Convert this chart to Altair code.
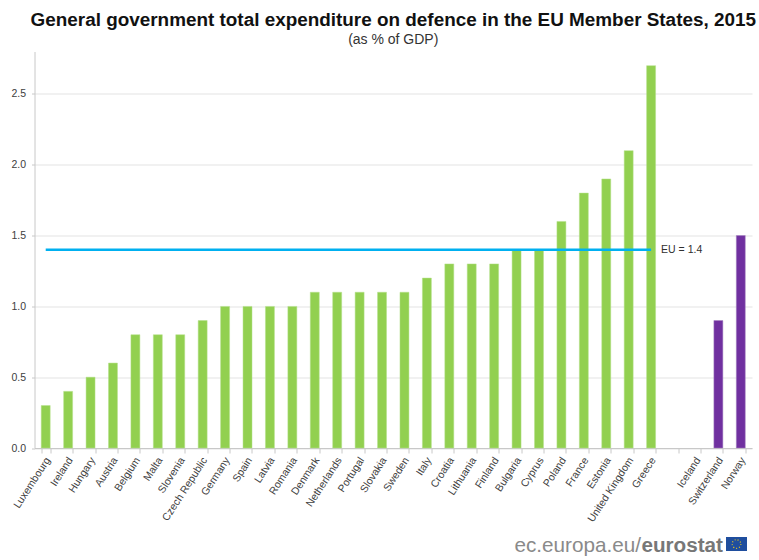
import altair as alt
import pandas as pd

FONT = "Liberation Sans"

countries = [
    "Luxembourg", "Ireland", "Hungary", "Austria", "Belgium", "Malta", "Slovenia",
    "Czech Republic", "Germany", "Spain", "Latvia", "Romania", "Denmark", "Netherlands",
    "Portugal", "Slovakia", "Sweden", "Italy", "Croatia", "Lithuania", "Finland",
    "Bulgaria", "Cyprus", "Poland", "France", "Estonia", "United Kingdom", "Greece",
]
country_values = [
    0.3, 0.4, 0.5, 0.6, 0.8, 0.8, 0.8, 0.9, 1.0, 1.0, 1.0, 1.0, 1.1, 1.1,
    1.1, 1.1, 1.1, 1.2, 1.3, 1.3, 1.3, 1.4, 1.4, 1.6, 1.8, 1.9, 2.1, 2.7,
]
efta = ["Switzerland", "Norway"]
efta_values = [0.9, 1.5]

# The empty slot separates EU members from the EFTA countries; Iceland has no value.
slots = countries + [" ", "Iceland"] + efta
y_ticks = [0.0, 0.5, 1.0, 1.5, 2.0, 2.5]
eu_average = 1.4

WIDTH, HEIGHT = 717.5, 396.5

x_scale = alt.Scale(domain=slots, paddingInner=0.6, paddingOuter=0.3)
y_scale = alt.Scale(domain=[0, 2.8], nice=False)

eu_bars = pd.DataFrame({"country": countries, "value": country_values})
efta_bars = pd.DataFrame({"country": efta, "value": efta_values})
eu_line = pd.DataFrame({"country": [countries[0], countries[-1]], "value": [eu_average] * 2})
eu_label = pd.DataFrame({"country": [countries[-1]], "value": [eu_average], "text": [f"EU = {eu_average}"]})

x = alt.X(
    "country:N", scale=x_scale, title=None,
    axis=alt.Axis(
        labelAngle=-57, labelAlign="right", labelBaseline="middle", labelFont=FONT,
        labelFontSize=10.5, labelColor="#404040", labelPadding=5, labelOverlap=False,
        labelLimit=200, labelOffset=2, tickBand="extent", tickColor="#c8c8c8", tickSize=5,
        domainColor="#c8c8c8", domainWidth=1.2, grid=False,
    ),
)
y = alt.Y(
    "value:Q", scale=y_scale, title=None,
    axis=alt.Axis(
        values=y_ticks, format=".1f", labelFont=FONT, labelFontSize=10.5,
        labelColor="#404040", labelPadding=6, tickColor="#c8c8c8", tickSize=3,
        domainColor="#c8c8c8", gridColor="#e4e4e4", gridWidth=1.2,
    ),
)

green = alt.Chart(eu_bars).mark_bar(color="#92d050", stroke="#b4e08a", strokeWidth=0.5).encode(x=x, y=y)
purple = alt.Chart(efta_bars).mark_bar(color="#7030a0", stroke="#a583c0", strokeWidth=0.5).encode(x=x, y=y)
line = alt.Chart(eu_line).mark_line(color="#00b0f0", strokeWidth=2.5).encode(x=x, y=y)
line_text = alt.Chart(eu_label).mark_text(
    align="left", baseline="middle", dx=10, font=FONT, fontSize=10.5, color="#303030"
).encode(x=x, y=y, text="text:N")

# Footer: site address, bold wordmark and a small EU flag.
footer_y = alt.value(HEIGHT + 97.5)
footer_base = pd.DataFrame({"address": ["ec.europa.eu/"], "brand": ["eurostat"]})
address = alt.Chart(footer_base).mark_text(
    align="right", baseline="middle", font=FONT, fontSize=20.7, color="#8a8a8a"
).encode(x=alt.value(606.5), y=footer_y, text="address:N")
brand = alt.Chart(footer_base).mark_text(
    align="right", baseline="middle", font=FONT, fontSize=20.7, fontWeight="bold", color="#777777"
).encode(x=alt.value(688.5), y=footer_y, text="brand:N")
flag = alt.Chart(footer_base).mark_rect(color="#1f4e9e").encode(
    x=alt.value(691.5), x2=alt.value(712.5), y=alt.value(HEIGHT + 89), y2=alt.value(HEIGHT + 103)
)
stars = alt.Chart(footer_base).mark_point(
    filled=False, color="#e8c820", size=75, strokeWidth=1.2, strokeDash=[1, 2], opacity=1
).encode(x=alt.value(702), y=alt.value(HEIGHT + 96))

chart = (
    alt.layer(green, purple, line, line_text, address, brand, flag, stars)
    .properties(
        width=WIDTH,
        height=HEIGHT,
        padding={"left": 34.5, "top": 51.5, "right": 7, "bottom": 112},
        autosize=alt.AutoSizeParams(type="none"),
        background="white",
        title=alt.TitleParams(
            text="General government total expenditure on defence in the EU Member States, 2015",
            subtitle="(as % of GDP)",
            font=FONT, fontSize=18.9, fontWeight="bold", color="#111111",
            subtitleFont=FONT, subtitleFontSize=14, subtitleColor="#333333", subtitlePadding=3,
            anchor="middle", offset=5,
        ),
    )
    .configure_view(stroke=None)
)

chart.save("out.html", embed_options={"renderer": "svg", "actions": False})
